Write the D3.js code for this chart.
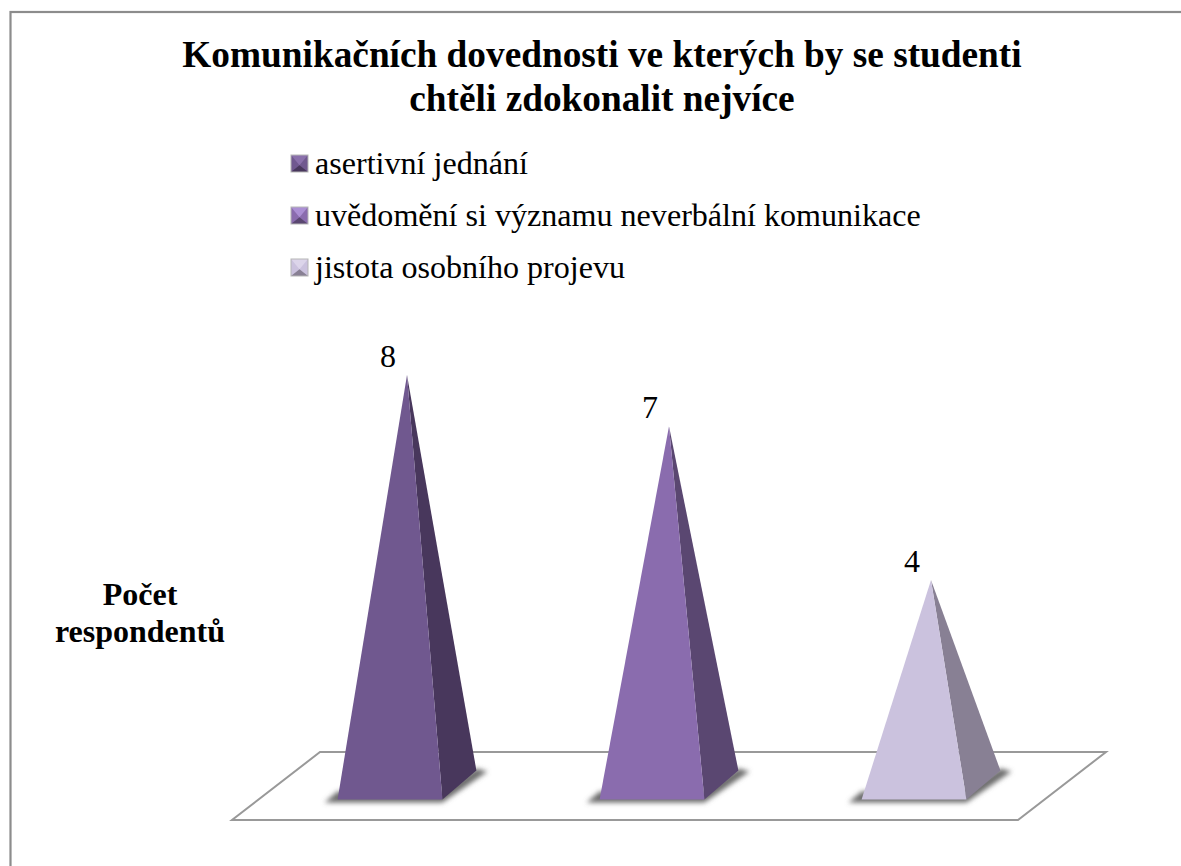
<!DOCTYPE html>
<html>
<head>
<meta charset="utf-8">
<script src="https://cdn.jsdelivr.net/npm/d3@7"></script>
<style>
    html, body { margin: 0; padding: 0; background: #fff; }
    text { font-family: "Liberation Serif", serif; fill: #000; }
</style>
</head>
<body>
<div id="svg-container"></div>
<script>
// data
const categories = ['asertivní jednání', 'uvědomění si významu neverbální komunikace', 'jistota osobního projevu'];
const values = [8, 7, 4];
const titleLines = ['Komunikačních dovednosti ve kterých by se studenti', 'chtěli zdokonalit nejvíce'];
const axisLines = ['Počet', 'respondentů'];
const frontColors = ['#70588f', '#8a6cae', '#cbc2de'];
const sideColors = ['#48375c', '#5a4771', '#888094'];
const markerLights = ['#8a70ab', '#ab8fd4', '#dcd5ea'];

// dimensions
const dim = { width: 1181, height: 866 };

const svg = d3.select('#svg-container')
    .append('svg')
    .attr('width', dim.width)
    .attr('height', dim.height)
    .style('display', 'block');

const defs = svg.append('defs');
defs.append('filter').attr('id', 'blur')
    .attr('x', '-30%').attr('y', '-50%').attr('width', '160%').attr('height', '200%')
    .append('feGaussianBlur').attr('stdDeviation', 2.5);

// scales
const xScale = d3.scaleBand().domain(categories).range([276, 1062]);
const yScale = d3.scaleLinear().domain([0, 8]).range([785, 375]);

// depth of the floor and of each pyramid base
const floorDepth = { dx: 44, dy: 34 };
const baseHalf = xScale.bandwidth() * 0.2;
const baseDepth = { dx: 17, dy: 14.5 };
const points = p => p.map(d => d.join(',')).join(' ');

// frame
svg.append('rect')
    .attr('x', 10.5).attr('y', 12)
    .attr('width', 1190).attr('height', 900)
    .attr('fill', '#fff').attr('stroke', '#8c8c8c').attr('stroke-width', 2.2);

// title
svg.append('g').selectAll('text')
    .data(titleLines)
    .join('text')
    .attr('x', 602)
    .attr('y', (d, i) => 67 + i * 44)
    .attr('text-anchor', 'middle')
    .attr('font-size', 37.3)
    .attr('font-weight', 'bold')
    .text(d => d);

// legend
const legend = svg.append('g').selectAll('g')
    .data(categories)
    .join('g')
    .attr('transform', (d, i) => `translate(291, ${155 + i * 52})`);

legend.each(function(d, i) {
    const g = d3.select(this);
    const s = 17;
    g.append('rect').attr('width', s).attr('height', s).attr('fill', frontColors[i]);
    g.append('polygon').attr('points', points([[0, 0], [s, 0], [s / 2, s * 0.6]])).attr('fill', markerLights[i]);
    g.append('polygon').attr('points', points([[0, s], [s, s], [s / 2, s * 0.6]])).attr('fill', sideColors[i]);
    g.append('rect').attr('width', s).attr('height', s)
        .attr('fill', 'none').attr('stroke', '#b5b5b5').attr('stroke-width', 1);
});

legend.append('text')
    .attr('x', 24)
    .attr('y', 19)
    .attr('font-size', 32.1)
    .text(d => d);

// axis title
svg.append('g').selectAll('text')
    .data(axisLines)
    .join('text')
    .attr('x', 140)
    .attr('y', (d, i) => 605 + i * 37)
    .attr('text-anchor', 'middle')
    .attr('font-size', 32)
    .attr('font-weight', 'bold')
    .text(d => d);

// floor
const floorFront = yScale(0) + floorDepth.dy + 1;
const floorBack = yScale(0) - floorDepth.dy + 1;
svg.append('polygon')
    .attr('points', points([
        [xScale.range()[0] - floorDepth.dx, floorFront],
        [xScale.range()[1] - floorDepth.dx, floorFront],
        [xScale.range()[1] + floorDepth.dx, floorBack],
        [xScale.range()[0] + floorDepth.dx, floorBack]
    ]))
    .attr('fill', '#fff')
    .attr('stroke', '#999')
    .attr('stroke-width', 2);

// pyramids
const pyramids = svg.append('g').selectAll('g')
    .data(categories)
    .join('g');

pyramids.each(function(d, i) {
    const g = d3.select(this);
    const cx = xScale(d) + xScale.bandwidth() / 2;
    const cy = yScale(0);
    const fl = [cx - baseHalf - baseDepth.dx, cy + baseDepth.dy];
    const fr = [cx + baseHalf - baseDepth.dx, cy + baseDepth.dy];
    const br = [cx + baseHalf + baseDepth.dx, cy - baseDepth.dy];
    const apex = [cx, yScale(values[i])];

    // shadow under the base
    g.append('polygon')
        .attr('points', points([
            [fl[0] - 13, fl[1] + 3], [fr[0], fr[1] + 3],
            [br[0] + 11, br[1] + 1], [br[0], br[1] - 2], [fr[0], fr[1] - 8], [fl[0], fl[1] - 8]
        ]))
        .attr('fill', '#6a6a6a')
        .attr('filter', 'url(#blur)');

    g.append('polygon').attr('points', points([fr, br, apex])).attr('fill', sideColors[i]);
    g.append('polygon').attr('points', points([fl, fr, apex])).attr('fill', frontColors[i]);

    g.append('text')
        .attr('x', cx - 19)
        .attr('y', apex[1] - 8)
        .attr('text-anchor', 'middle')
        .attr('font-size', 32)
        .text(values[i]);
});
</script>
</body>
</html>
